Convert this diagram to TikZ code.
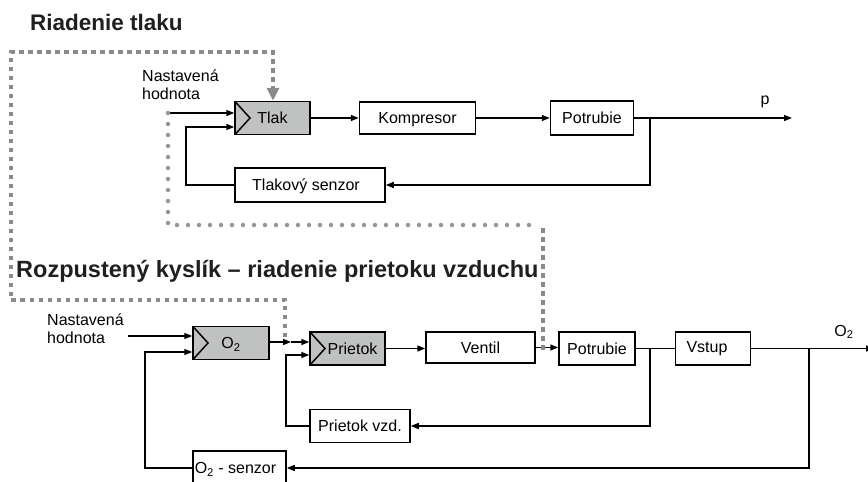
\documentclass[tikz,border=0pt]{standalone}
\usepackage{fontspec}
\setmainfont{Liberation Sans}
\usetikzlibrary{arrows.meta}
\definecolor{boxgray}{RGB}{192,194,193}
\definecolor{dashgray}{RGB}{138,138,138}
\definecolor{dotgray}{RGB}{150,150,150}

\begin{document}
\begin{tikzpicture}[x=1pt,y=-1pt,
  lbl/.style={font=\fontsize{16}{17.5}\selectfont},
  boxtxt/.style={lbl, text height=11.5pt, text depth=0pt},
  blk/.style={draw, line width=1.5pt, inner sep=0pt, boxtxt},
  ctrl/.style={blk, fill=boxgray,
    path picture={\draw[line width=1.5pt] (path picture bounding box.north west)
      -- ([xshift=15pt]path picture bounding box.west)
      -- (path picture bounding box.south west);}},
  sig/.style={line width=1.5pt},
  arr/.style={sig, -{Triangle[length=8pt,width=6pt]}},
  sq/.style={dashgray, line width=4pt, dash pattern=on 4.5pt off 4.5pt},
  dots/.style={dotgray, line width=4.5pt, line cap=round, dash pattern=on 0pt off 11pt},
  heading/.style={font=\fontsize{#1}{25}\selectfont\bfseries, anchor=base west, inner sep=0pt, text=black!88},
  txt/.style={lbl, inner sep=0pt},
  intxt/.style={boxtxt, inner sep=0pt}
]
\useasboundingbox (0,0) rectangle (868,482);

% ---------- pressure loop ----------
\node[heading=22.5] (title1) at (30,30) {Riadenie tlaku};

\node[txt, align=left, anchor=north west] (set1) at (142,70) {Nastavená\\hodnota};
\node[ctrl, minimum width=75pt, minimum height=33pt] (tlak) at (272.5,118) {Tlak};
\node[blk, minimum width=116pt, minimum height=32pt] (komp) at (417.5,118) {Kompresor};
\node[blk, minimum width=83pt, minimum height=34pt] (pot1) at (592,118) {Potrubie};
\node[blk, minimum width=150pt, minimum height=34pt, label={[intxt,xshift=-4pt]center:Tlakový senzor}] (tsen) at (310,185) {};
\node[txt, anchor=base] (plbl) at (765,104) {p};

\coordinate (sp1) at (168,113);
\coordinate (fb1) at (186,127);
\coordinate (j1) at (650,118);
\coordinate (pout) at (792,118);

\draw[arr] (sp1) -- (sp1 -| tlak.west);
\draw[arr] (tlak.east) -- (tlak.east -| komp.west);
\draw[arr] (komp.east) -- (komp.east -| pot1.west);
\draw[arr] (pot1.east) -- (pout);
\draw[arr] (j1) |- (tsen.east);
\draw[arr] (tsen.west) -| (fb1) -- (fb1 -| tlak.west);

% ---------- dissolved oxygen / air flow loop ----------
\node[heading=23.5] (title2) at (16,277) {Rozpustený kyslík – riadenie prietoku vzduchu};

\node[txt, align=left, anchor=north west] (set2) at (47,314) {Nastavená\\hodnota};
\node[ctrl, minimum width=76pt, minimum height=33pt] (o2) at (231,343) {O\textsubscript{2}};
\node[ctrl, minimum width=75pt, minimum height=33pt, label={[intxt,xshift=5pt]center:Prietok}] (prietok) at (347.5,348.5) {};
\node[blk, minimum width=109pt, minimum height=31pt] (ventil) at (480.5,347.5) {Ventil};
\node[blk, minimum width=76pt, minimum height=33pt] (pot2) at (597,348.5) {Potrubie};
\node[blk, minimum width=75pt, minimum height=33pt, label={[intxt,xshift=-6pt,yshift=2pt]center:Vstup}] (vstup) at (713,348.5) {};
\node[blk, minimum width=100pt, minimum height=33pt] (pvzd) at (360,426) {Prietok vzd.};
\node[blk, minimum width=93pt, minimum height=34pt, label={[intxt,xshift=-4pt]center:O\textsubscript{2} - senzor}] (osen) at (239.5,468) {};
\node[txt, anchor=base] (o2lbl) at (844,336) {O\textsubscript{2}};

\coordinate (sp2) at (128,336);
\coordinate (fb2) at (145,352);
\coordinate (jo) at (291,342);
\coordinate (fb3) at (286,355);
\coordinate (j2) at (650,348.5);
\coordinate (j3) at (809,348.5);
\coordinate (oout) at (874,348.5);

\draw[arr] (sp2) -- (sp2 -| o2.west);
\draw[arr] (o2.east |- jo) -- (jo);
\draw[arr] (jo) -- (jo -| prietok.west);
\draw[arr] (prietok.east) -- (prietok.east -| ventil.west);
\draw[arr] (ventil.east) -- (ventil.east -| pot2.west);
\draw[sig] (pot2.east) -- (vstup.west);
\draw[arr] (vstup.east) -- (oout);
\draw[arr] (j2) |- (pvzd.east);
\draw[arr] (pvzd.west) -| (fb3) -- (fb3 -| prietok.west);
\draw[arr] (j3) |- (osen.east);
\draw[arr] (osen.west) -| (fb2) -- (fb2 -| o2.west);

% ---------- links between the loops ----------
\coordinate (q0) at (285,337);
\coordinate (q1) at (285,300);
\coordinate (q2) at (11,300);
\coordinate (q3) at (11,52);
\coordinate (q4) at (273,52);
\draw[sq, -{Triangle[length=13pt,width=12pt]}] (q0) -- (q1) -- (q2) -- (q3) -- (q4) -- (q4 |- tlak.north);

\coordinate (d1) at (168,225);
\coordinate (d2) at (539,225);
\coordinate (d3) at (543,228);
\coordinate (d4) at (543,350);
\draw[dots] (sp1) -- (d1) -- (d2);
\draw[sq] (d3) -- (d4);
\end{tikzpicture}
\end{document}
